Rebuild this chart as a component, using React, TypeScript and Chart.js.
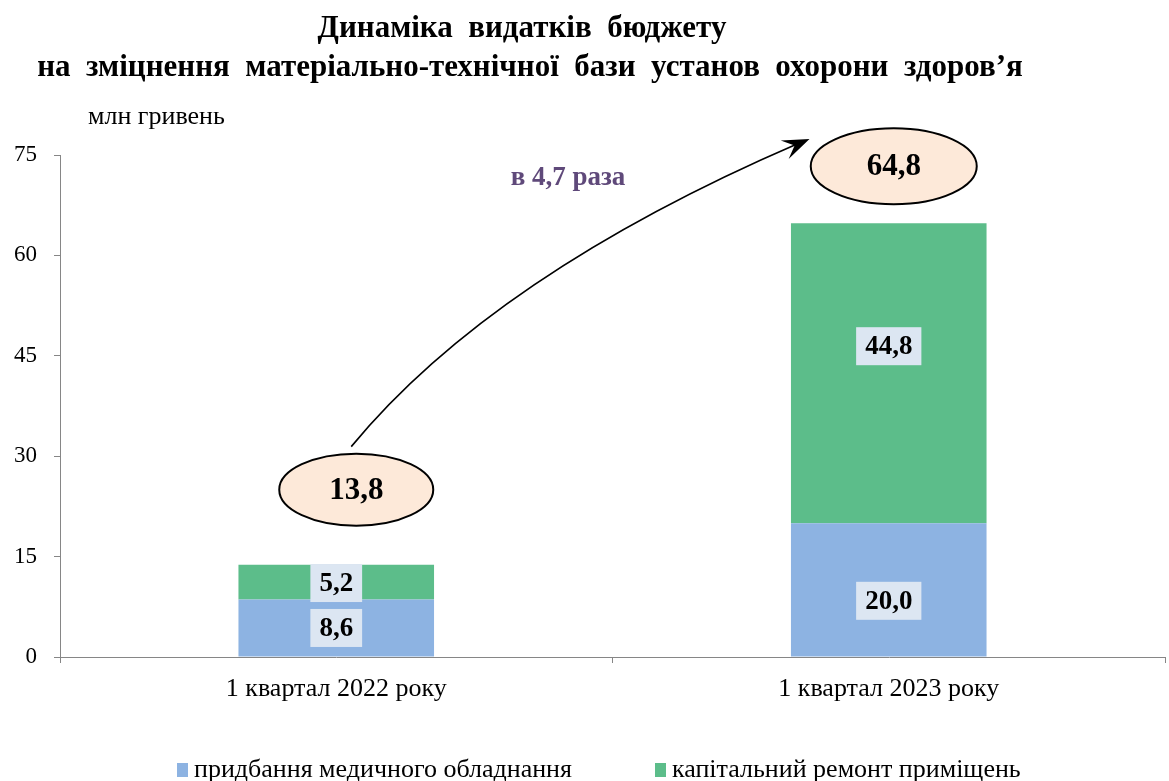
import React, { useEffect, useRef } from "react";
import { Chart, registerables } from "chart.js";

Chart.register(...registerables);

const categories = ["1 квартал 2022 року", "1 квартал 2023 року"];
const equipment = [8.6, 20.0];
const repair = [5.2, 44.8];
const seriesNames = ["придбання медичного обладнання", "капітальний ремонт приміщень"];
const yTicks = [0, 15, 30, 45, 60, 75];
const titleLines = ["Динаміка  видатків  бюджету", "на  зміцнення  матеріально-технічної  бази  установ  охорони  здоров’я"];
const unitLabel = "млн гривень";

const BLUE = "#8db3e2";
const GREEN = "#5cbd8a";
const SERIF = '"Liberation Serif", "Times New Roman", serif';

// style-only vertical nudges for value labels [dataset][category]
const labelNudge = [
  [0, 11],
  [1, -27],
];

const fmt = (v: number) => v.toFixed(1).replace(".", ",");

const overlay = {
  id: "overlay",
  afterDatasetsDraw(chart: any) {
    const ctx = chart.ctx as CanvasRenderingContext2D;
    ctx.save();
    // value labels
    chart.data.datasets.forEach((ds: any, di: number) => {
      const meta = chart.getDatasetMeta(di);
      meta.data.forEach((bar: any, i: number) => {
        const v = ds.data[i];
        const top = Math.min(bar.y, bar.base);
        const bottom = Math.max(bar.y, bar.base);
        const cy = (top + bottom) / 2 + labelNudge[di][i];
        const text = fmt(v);
        ctx.font = `bold 27px ${SERIF}`;
        const w = ctx.measureText(text).width + 18;
        const h = 38;
        ctx.fillStyle = "#dce6f2";
        ctx.fillRect(bar.x - w / 2, cy - h / 2, w, h);
        ctx.fillStyle = "#000";
        ctx.textAlign = "center";
        ctx.textBaseline = "middle";
        ctx.fillText(text, bar.x, cy + 1);
      });
    });

    // totals in ellipses
    const topMeta = chart.getDatasetMeta(1);
    const totals = categories.map((_, i) => equipment[i] + repair[i]);
    const ell: { x: number; y: number; rx: number; ry: number }[] = [];
    topMeta.data.forEach((bar: any, i: number) => {
      const cfg = i === 0 ? { dx: 20, dy: -75, rx: 77, ry: 36 } : { dx: 5, dy: -57, rx: 83, ry: 38 };
      const cx = bar.x + cfg.dx;
      const cy = bar.y + cfg.dy;
      ell.push({ x: cx, y: cy, rx: cfg.rx, ry: cfg.ry });
      ctx.beginPath();
      ctx.ellipse(cx, cy, cfg.rx, cfg.ry, 0, 0, Math.PI * 2);
      ctx.fillStyle = "#fde9d9";
      ctx.fill();
      ctx.lineWidth = 2;
      ctx.strokeStyle = "#000";
      ctx.stroke();
      ctx.fillStyle = "#000";
      ctx.font = `bold 31px ${SERIF}`;
      ctx.textAlign = "center";
      ctx.textBaseline = "middle";
      ctx.fillText(fmt(totals[i]), cx, cy + 1);
    });

    // arrow
    const sx = ell[0].x - 5;
    const sy = ell[0].y - ell[0].ry - 7;
    const ex = ell[1].x - ell[1].rx - 4;
    const ey = ell[1].y - 26;
    const cpx = 493;
    const cpy = 275;
    ctx.beginPath();
    ctx.moveTo(sx, sy);
    ctx.quadraticCurveTo(cpx, cpy, ex - 8, ey + 3);
    ctx.lineWidth = 1.6;
    ctx.strokeStyle = "#000";
    ctx.stroke();
    const ang = Math.atan2(ey - cpy, ex - cpx);
    const L = 24;
    const W = 10;
    ctx.beginPath();
    ctx.moveTo(ex + 3 * Math.cos(ang), ey + 3 * Math.sin(ang));
    ctx.lineTo(ex - L * Math.cos(ang) + W * Math.sin(ang), ey - L * Math.sin(ang) - W * Math.cos(ang));
    ctx.lineTo(ex - L * 0.55 * Math.cos(ang), ey - L * 0.55 * Math.sin(ang));
    ctx.lineTo(ex - L * Math.cos(ang) - W * Math.sin(ang), ey - L * Math.sin(ang) + W * Math.cos(ang));
    ctx.closePath();
    ctx.fillStyle = "#000";
    ctx.fill();

    // ratio text
    const ratio = totals[1] / totals[0];
    ctx.font = `bold 27px ${SERIF}`;
    ctx.fillStyle = "#5f497a";
    ctx.textAlign = "center";
    ctx.textBaseline = "middle";
    ctx.fillText(`в ${fmt(ratio)} раза`, 568, 178);

    ctx.restore();
  },
  afterDraw(chart: any) {
    const ctx = chart.ctx as CanvasRenderingContext2D;
    ctx.save();
    ctx.fillStyle = "#000";
    ctx.textAlign = "center";
    ctx.textBaseline = "middle";
    ctx.font = `bold 31px ${SERIF}`;
    ctx.fillText(titleLines[0], 522, 29);
    ctx.fillText(titleLines[1], 530, 68);

    ctx.font = `26px ${SERIF}`;
    ctx.textAlign = "left";
    ctx.fillText(unitLabel, 88, 117);

    // legend
    const items = [
      { x: 177, color: BLUE, text: seriesNames[0] },
      { x: 655, color: GREEN, text: seriesNames[1] },
    ];
    ctx.font = `26px ${SERIF}`;
    items.forEach((it) => {
      ctx.fillStyle = it.color;
      ctx.fillRect(it.x, 763, 11, 14);
      ctx.fillStyle = "#000";
      ctx.fillText(it.text, it.x + 17, 770);
    });
    ctx.restore();
  },
};

export default function App() {
  const ref = useRef<HTMLCanvasElement>(null);
  useEffect(() => {
    if (!ref.current) return;
    const chart = new Chart(ref.current, {
      type: "bar",
      data: {
        labels: categories,
        datasets: [
          { label: seriesNames[0], data: equipment, backgroundColor: BLUE, categoryPercentage: 1, barPercentage: 0.354 },
          { label: seriesNames[1], data: repair, backgroundColor: GREEN, categoryPercentage: 1, barPercentage: 0.354 },
        ],
      },
      options: {
        animation: false,
        responsive: true,
        maintainAspectRatio: false,
        layout: { padding: { top: 155, left: 0, right: 4, bottom: 64 } },
        plugins: { legend: { display: false }, title: { display: false }, tooltip: { enabled: false } },
        scales: {
          x: {
            stacked: true,
            border: { color: "#868686", width: 1 },
            grid: { drawOnChartArea: false, drawTicks: true, tickLength: 6, color: "#868686" },
            ticks: { color: "#000", font: { family: SERIF, size: 26 }, padding: 11 },
            afterFit: (s: any) => {
              s.height = 60;
            },
          },
          y: {
            stacked: true,
            min: 0,
            max: 75,
            border: { color: "#868686", width: 1 },
            grid: { drawOnChartArea: false, drawTicks: true, tickLength: 6, color: "#868686" },
            afterBuildTicks: (s: any) => {
              s.ticks = yTicks.map((v) => ({ value: v }));
            },
            ticks: { color: "#000", font: { family: SERIF, size: 23 }, padding: 17 },
            afterFit: (s: any) => {
              s.width = 60;
            },
          },
        },
      },
      plugins: [overlay],
    });
    return () => chart.destroy();
  }, []);
  return (
    <div style={{ position: "absolute", left: 0, top: 0, width: 1169, height: 781, background: "#fff" }}>
      <canvas ref={ref} />
    </div>
  );
}
